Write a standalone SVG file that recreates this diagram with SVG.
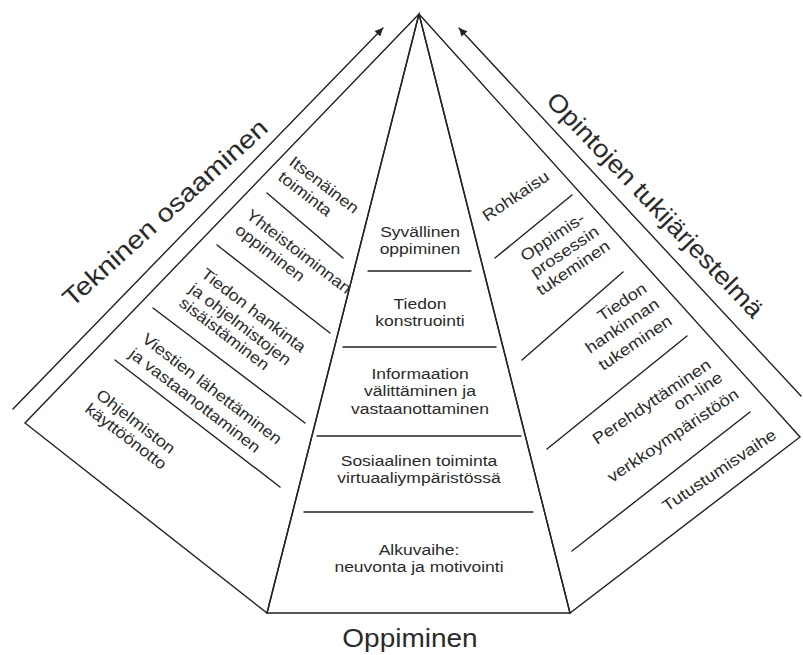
<svg xmlns="http://www.w3.org/2000/svg" width="803" height="655" viewBox="0 0 803 655">
<defs>
<marker id="ah" viewBox="0 0 10 10" refX="10" refY="5" markerWidth="10" markerHeight="8" markerUnits="userSpaceOnUse" orient="auto">
<path d="M0,0 L10,5 L0,10 Z" fill="#222"/>
</marker>
<style>
.ln{stroke:#222;stroke-width:1.4;fill:none;stroke-linecap:round;stroke-linejoin:miter}
.t{font-family:"Liberation Sans",Arial,sans-serif;font-size:15.5px;fill:#2a2a2a}
.r{font-family:"Liberation Sans",Arial,sans-serif;font-size:16px;fill:#2a2a2a}
.big{font-family:"Liberation Sans",Arial,sans-serif;font-size:25px;fill:#2a2a2a}
.c{text-anchor:middle}
</style>
</defs>
<rect width="803" height="655" fill="#ffffff"/>

<g id="pyramid-outline">
<path class="ln" d="M419,14 L25,423 L267,613 Z"/>
<path class="ln" d="M419,14 L267,613 L570,613 Z"/>
<path class="ln" d="M419,14 L800,437 L570,613 Z"/>
</g>

<g id="center-face">
<g id="c-syvallinen">
<g transform="translate(420,0) scale(1.13,1)"><text class="t c" x="0" y="237">Syvällinen</text><text class="t c" x="0" y="254.5">oppiminen</text></g>
<line class="ln" x1="368" y1="271" x2="471" y2="271"/>
</g>
<g id="c-tiedon">
<g transform="translate(420,0) scale(1.13,1)"><text class="t c" x="0" y="309">Tiedon</text><text class="t c" x="0" y="326.5">konstruointi</text></g>
<line class="ln" x1="343" y1="347" x2="496" y2="347"/>
</g>
<g id="c-informaatio">
<g transform="translate(420,0) scale(1.13,1)"><text class="t c" x="0" y="379">Informaation</text><text class="t c" x="0" y="396.5">välittäminen ja</text><text class="t c" x="0" y="414">vastaanottaminen</text></g>
<line class="ln" x1="317" y1="436" x2="521" y2="436"/>
</g>
<g id="c-sosiaalinen">
<g transform="translate(419,0) scale(1.13,1)"><text class="t c" x="0" y="466">Sosiaalinen toiminta</text><text class="t c" x="0" y="483.5">virtuaaliympäristössä</text></g>
<line class="ln" x1="304" y1="512" x2="533" y2="512"/>
</g>
<g id="c-alkuvaihe">
<g transform="translate(419,0) scale(1.13,1)"><text class="t c" x="0" y="555">Alkuvaihe:</text><text class="t c" x="0" y="572.5">neuvonta ja motivointi</text></g>
</g>
</g>

<g id="left-face">
<g id="l-itsenainen">
<text class="r" transform="translate(288,164) rotate(37.5) scale(1.12,1)">Itsenäinen</text>
<text class="r" transform="translate(277,179) rotate(37.5) scale(1.12,1)">toiminta</text>
<line class="ln" x1="267" y1="193" x2="343" y2="258"/>
</g>
<g id="l-yhteistoiminnan">
<text class="r" transform="translate(245,217) rotate(37.5) scale(1.12,1)">Yhteistoiminnan</text>
<text class="r" transform="translate(234,232) rotate(37.5) scale(1.12,1)">oppiminen</text>
<line class="ln" x1="217" y1="245" x2="330" y2="333"/>
</g>
<g id="l-tiedon">
<text class="r" transform="translate(200,276) rotate(37.5) scale(1.12,1)">Tiedon hankinta</text>
<text class="r" transform="translate(188,291) rotate(37.5) scale(1.12,1)">ja ohjelmistojen</text>
<text class="r" transform="translate(178,305) rotate(37.5) scale(1.12,1)">sisäistäminen</text>
<line class="ln" x1="153" y1="308" x2="305" y2="423"/>
</g>
<g id="l-viestien">
<text class="r" transform="translate(141,341) rotate(37.5) scale(1.12,1)">Viestien lähettäminen</text>
<text class="r" transform="translate(128,356) rotate(37.5) scale(1.12,1)">ja vastaanottaminen</text>
<line class="ln" x1="115" y1="360" x2="280" y2="487"/>
</g>
<g id="l-ohjelmiston">
<text class="r" transform="translate(95,397) rotate(37.5) scale(1.12,1)">Ohjelmiston</text>
<text class="r" transform="translate(84,411) rotate(37.5) scale(1.12,1)">käyttöönotto</text>
</g>
</g>

<g id="right-face">
<g id="r-rohkaisu">
<text class="r" transform="translate(487,222) rotate(-34) scale(1.15,1)">Rohkaisu</text>
<line class="ln" x1="495" y1="258" x2="572" y2="195"/>
</g>
<g id="r-oppimisprosessin">
<text class="r" transform="translate(525,262) rotate(-34) scale(1.15,1)">Oppimis-</text>
<text class="r" transform="translate(535,278) rotate(-34) scale(1.15,1)">prosessin</text>
<text class="r" transform="translate(541,296) rotate(-34) scale(1.15,1)">tukeminen</text>
<line class="ln" x1="522" y1="360" x2="623" y2="272"/>
</g>
<g id="r-tiedon">
<text class="r" transform="translate(602,322) rotate(-34) scale(1.15,1)">Tiedon</text>
<text class="r" transform="translate(590,354) rotate(-34) scale(1.15,1)">hankinnan</text>
<text class="r" transform="translate(603,371) rotate(-34) scale(1.15,1)">tukeminen</text>
<line class="ln" x1="547" y1="449" x2="687" y2="336"/>
</g>
<g id="r-perehdyttaminen">
<text class="r" transform="translate(597,445) rotate(-34) scale(1.15,1)">Perehdyttäminen</text>
<text class="r" transform="translate(678,411) rotate(-34) scale(1.15,1)">on-line</text>
<text class="r" transform="translate(612,483) rotate(-34) scale(1.15,1)">verkkoympäristöön</text>
<line class="ln" x1="572" y1="551" x2="750" y2="412"/>
</g>
<g id="r-tutustumisvaihe">
<text class="r" transform="translate(667,512) rotate(-34) scale(1.15,1)">Tutustumisvaihe</text>
</g>
</g>

<g id="labels">
<g id="label-tekninen"><text class="big" transform="translate(72,308) rotate(-42) scale(1.16,1)">Tekninen osaaminen</text></g>
<g id="label-opintojen"><text class="big" transform="translate(545,102) rotate(46.3) scale(1.1,1)">Opintojen tukijärjestelmä</text></g>
<g id="label-oppiminen"><text class="big c" transform="translate(410,647) scale(1.12,1)">Oppiminen</text></g>
</g>

<g id="connectors">
<line class="ln" x1="13" y1="409" x2="383" y2="28" marker-end="url(#ah)"/>
<line class="ln" x1="801" y1="396" x2="459" y2="28" marker-end="url(#ah)"/>
</g>
</svg>
